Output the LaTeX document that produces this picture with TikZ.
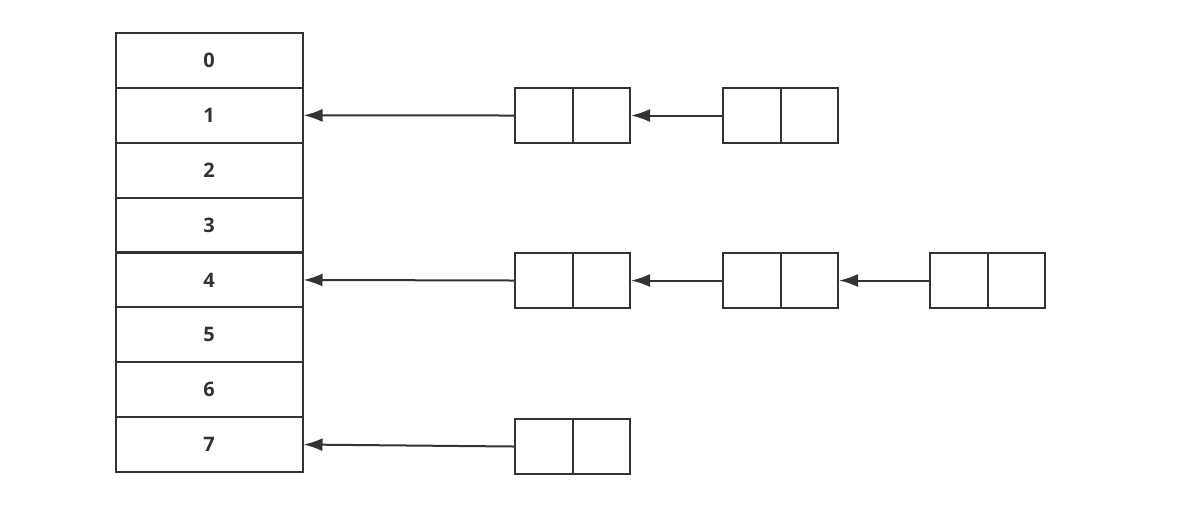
\documentclass[tikz,border=0pt]{standalone}
\usepackage{fontspec}
\setmainfont{Open Sans}
\usetikzlibrary{arrows.meta}
\definecolor{hashgray}{HTML}{333333}

\begin{document}
\begin{tikzpicture}[x=0.5pt,y=-0.5pt,hashgray,line width=1pt,
	slot/.style={draw,minimum width=93.5pt,minimum height=27.5pt,inner sep=0pt,
		font=\fontsize{10}{12}\selectfont\bfseries},
	entry/.style={draw,minimum width=57.5pt,minimum height=27.5pt,inner sep=0pt},
	ptr/.style={-{Latex[length=9.5pt,width=6.5pt]}}]
	\useasboundingbox (0,0) rectangle (1187,527);
	% table
	\foreach \i in {0,...,7}
		\node[slot] (k\i) at (209,60.5+54.86*\i) {\i};
	% chains
	\node[entry] (n1a) at (572.5,115.5) {};
	\node[entry] (n1b) at (780.5,115.5) {};
	\node[entry] (n4a) at (572.5,280.5) {};
	\node[entry] (n4b) at (780.5,280.5) {};
	\node[entry] (n4c) at (987.5,280.5) {};
	\node[entry] (n7a) at (572.5,446.5) {};
	\foreach \n in {n1a,n1b,n4a,n4b,n4c,n7a}
		\draw (\n.north) -- (\n.south);
	\draw[ptr] (n1a.west) -- (k1.east);
	\draw[ptr] (n1b.west) -- (n1a.east);
	\draw[ptr] (n4a.west) -- (k4.east);
	\draw[ptr] (n4b.west) -- (n4a.east);
	\draw[ptr] (n4c.west) -- (n4b.east);
	\draw[ptr] (n7a.west) -- (k7.east);
\end{tikzpicture}
\end{document}
